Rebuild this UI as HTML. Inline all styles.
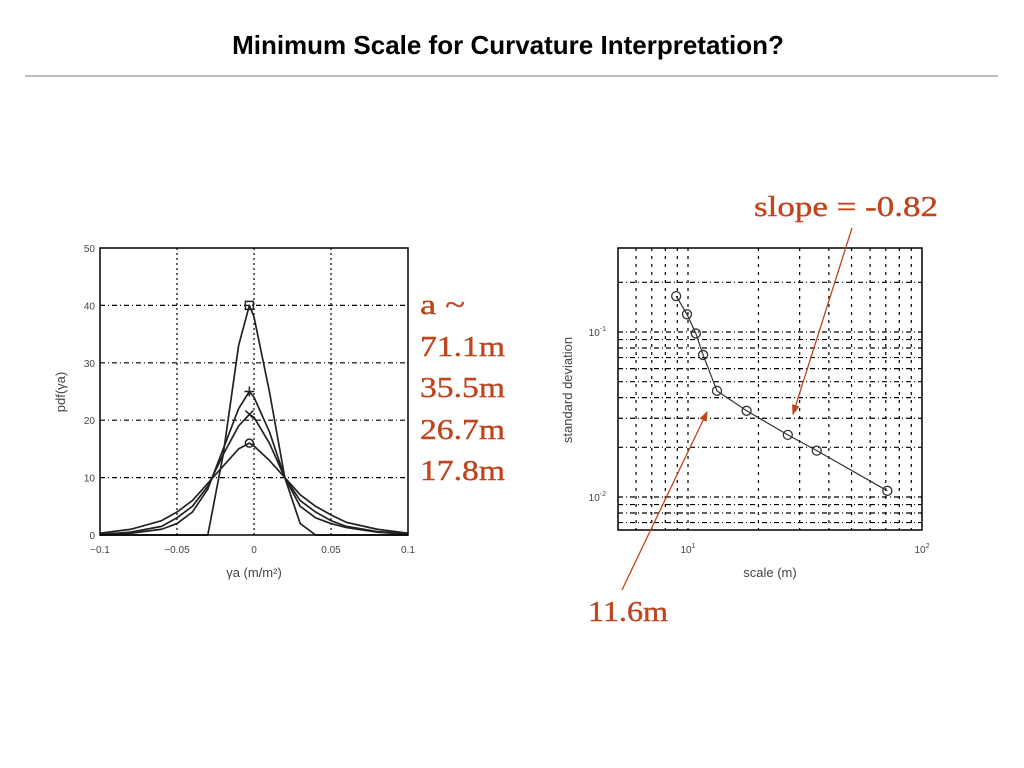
<!DOCTYPE html>
<html><head><meta charset="utf-8"><style>
body{margin:0;background:#fff;width:1024px;height:768px;overflow:hidden}
svg{display:block}
.red{fill:#c0451f;font-family:"Liberation Serif",serif;font-size:29px;stroke:#c0451f;stroke-width:0.4}
.tk{font-family:"Liberation Sans",sans-serif;font-size:10px;fill:#444}
</style></head><body>
<svg id="s" width="1024" height="768">
<text x="508" y="54" text-anchor="middle" font-family="Liberation Sans,sans-serif" font-weight="bold" font-size="26">Minimum Scale for Curvature Interpretation?</text>
<line x1="25" y1="76" x2="998" y2="76" stroke="#777" stroke-width="1"/>
<g id="left"></g>
<g id="right"></g>
<g>
<text class="red" x="420" y="314" textLength="45" lengthAdjust="spacingAndGlyphs">a ~</text>
<text class="red" x="420" y="356" textLength="85" lengthAdjust="spacingAndGlyphs">71.1m</text>
<text class="red" x="420" y="397" textLength="85" lengthAdjust="spacingAndGlyphs">35.5m</text>
<text class="red" x="420" y="439" textLength="85" lengthAdjust="spacingAndGlyphs">26.7m</text>
<text class="red" x="420" y="480" textLength="85" lengthAdjust="spacingAndGlyphs">17.8m</text>
</g>
<text class="red" x="754" y="216" textLength="184" lengthAdjust="spacingAndGlyphs">slope = -0.82</text>
<text class="red" x="588" y="621" textLength="80" lengthAdjust="spacingAndGlyphs">11.6m</text>
<defs><marker id="ah" markerWidth="8" markerHeight="8" refX="7" refY="4" orient="auto"><path d="M0,1 L8,4 L0,7z" fill="#c0451f"/></marker></defs>
<line x1="852" y1="228" x2="793" y2="414" stroke="#c0451f" stroke-width="1.3" marker-end="url(#ah)"/>
<line x1="622" y1="590" x2="707" y2="412" stroke="#c0451f" stroke-width="1.3" marker-end="url(#ah)"/>
</svg>
<script>
const pdfX=[-0.1,-0.08,-0.06,-0.05,-0.04,-0.03,-0.02,-0.01,-0.003,0,0.01,0.02,0.03,0.04,0.05,0.06,0.08,0.1];
const pdf71=[0,0,0,0,0,0,14,33,40,38,25,10,2,0,0,0,0,0];
const pdf35=[0,0.3,1,2,4,8,15,22,25,24,18,10,5,3,2,1.3,0.5,0.1];
const pdf26=[0.1,0.5,1.5,3,5,8.5,14,19,21,20.5,16,10,6,4,2.5,1.5,0.6,0.2];
const pdf17=[0.3,1,2.5,4,6,9,12,15,16,15.5,13,10,7,5,3.5,2.2,1,0.3];
const pdfXTicks=[-0.1,-0.05,0,0.05,0.1];
const pdfXLabels=["\u22120.1","\u22120.05","0","0.05","0.1"];
const pdfYTicks=[0,10,20,30,40,50];
const scales=[8.9,9.9,10.8,11.6,13.3,17.8,26.7,35.5,71.1];
const stdDev=[0.165,0.128,0.098,0.0726,0.044,0.0333,0.0238,0.0191,0.0109];
const NS="http://www.w3.org/2000/svg";
function mk(p,t,a){const e=document.createElementNS(NS,t);for(const k in a)e.setAttribute(k,a[k]);p.appendChild(e);return e;}
const L=document.getElementById('left');
const lx=v=>100+(v+0.1)/0.2*308, ly=v=>535-v/50*287;
pdfXTicks.forEach((t,i)=>{
 if(i>0&&i<4){const g=mk(L,'line',{x1:lx(t),x2:lx(t),y1:248,y2:535,stroke:'#000','stroke-dasharray':'2,3','stroke-width':1.2});
 
 }
 const tx=mk(L,'text',{x:lx(t),y:553,'text-anchor':'middle',class:'tk'});tx.textContent=pdfXLabels[i];
 
 
});
pdfYTicks.forEach(t=>{
 if(t>0&&t<50){const g=mk(L,'line',{x1:100,x2:408,y1:ly(t),y2:ly(t),stroke:'#000','stroke-dasharray':'5,3,1,3','stroke-width':1.2});
 
 }
 const tx=mk(L,'text',{x:95,y:ly(t)+4,'text-anchor':'end',class:'tk'});tx.textContent=t;
 
 
});
[pdf71,pdf35,pdf26,pdf17].forEach((s,k)=>{
 const p=mk(L,'polyline',{points:s.map((v,i)=>lx(pdfX[i])+','+ly(v)).join(' '),fill:'none',stroke:'#222','stroke-width':1.7,'stroke-linejoin':'round'});
 
 
 const px=lx(pdfX[8]),py=ly(s[8]);
 let m;
 if(k==0)m=mk(L,'rect',{x:px-4,y:py-4,width:8,height:8,fill:'none',stroke:'#222','stroke-width':1.5});
 else if(k==1)m=mk(L,'path',{d:`M${px-5},${py}h10M${px},${py-5}v10`,stroke:'#222','stroke-width':1.5});
 else if(k==2)m=mk(L,'path',{d:`M${px-4},${py-4}l8,8M${px+4},${py-4}l-8,8`,stroke:'#222','stroke-width':1.5});
 else m=mk(L,'circle',{cx:px,cy:py,r:4,fill:'none',stroke:'#222','stroke-width':1.5});
 
 
});
mk(L,'rect',{x:100,y:248,width:308,height:287,fill:'none',stroke:'#000','stroke-width':1.5});
let t1=mk(L,'text',{x:254,y:577,'text-anchor':'middle',class:'tk'});t1.style.fontSize='13px';t1.textContent='\u03B3a (m/m\u00B2)';


let t2=mk(L,'text',{x:0,y:0,class:'tk',transform:'translate(65,392) rotate(-90)','text-anchor':'middle'});t2.style.fontSize='13px';t2.textContent='pdf(\u03B3a)';


const R=document.getElementById('right');
const rx=v=>688+(Math.log10(v)-1)*234, ry=v=>332-(Math.log10(v)+1)*165;
[6,7,8,9,10,20,30,40,50,60,70,80,90].forEach(v=>{
 const g=mk(R,'line',{x1:rx(v),x2:rx(v),y1:248,y2:530,stroke:'#000','stroke-dasharray':'3,5','stroke-width':1.2});
 
 
});
[0.007,0.008,0.009,0.01,0.02,0.03,0.04,0.05,0.06,0.07,0.08,0.09,0.1,0.2].forEach(v=>{
 const g=mk(R,'line',{x1:618,x2:922,y1:ry(v),y2:ry(v),stroke:'#000','stroke-dasharray':'5,3,1,3','stroke-width':1.2});
 
 
});
const rl=mk(R,'polyline',{points:scales.map((v,i)=>rx(v)+','+ry(stdDev[i])).join(' '),fill:'none',stroke:'#333','stroke-width':1.2});


scales.forEach((v,i)=>{
 const c=mk(R,'circle',{cx:rx(v),cy:ry(stdDev[i]),r:4.5,fill:'none',stroke:'#333','stroke-width':1.3});
 
 
});
mk(R,'rect',{x:618,y:248,width:304,height:282,fill:'none',stroke:'#000','stroke-width':1.5});
[[10,'10'],[100,'10']].forEach(([v,s],i)=>{
 const t=mk(R,'text',{x:rx(v),y:553,'text-anchor':'middle',class:'tk'});t.innerHTML=s+'<tspan dy="-5" font-size="7">'+(i+1)+'</tspan>';
 
 
});
[[0.1,'-1'],[0.01,'-2']].forEach(([v,e])=>{
 const t=mk(R,'text',{x:606,y:ry(v)+4,'text-anchor':'end',class:'tk'});t.innerHTML='10<tspan dy="-5" font-size="7">'+e+'</tspan>';
 
 
});
let t3=mk(R,'text',{x:770,y:577,'text-anchor':'middle',class:'tk'});t3.style.fontSize='13px';t3.textContent='scale (m)';


let t4=mk(R,'text',{x:0,y:0,class:'tk',transform:'translate(572,390) rotate(-90)','text-anchor':'middle'});t4.style.fontSize='13px';t4.textContent='standard deviation';


</script>
</body></html>
